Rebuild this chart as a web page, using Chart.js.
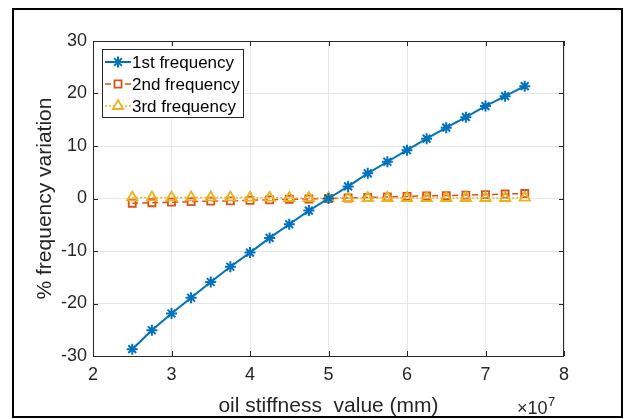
<!DOCTYPE html>
<html>
<head>
<meta charset="utf-8">
<script src="https://cdn.jsdelivr.net/npm/chart.js@4/dist/chart.umd.min.js"></script>
<style>
  body { margin: 0; background: #fff; }
  canvas { display: block; }
</style>
</head>
<body>
<canvas id="canvas" width="624" height="419"></canvas>
<script>
// oil stiffness values (x), three frequency variations in %
var stiffness = [2.5e7, 2.75e7, 3e7, 3.25e7, 3.5e7, 3.75e7, 4e7, 4.25e7, 4.5e7, 4.75e7, 5e7,
                 5.25e7, 5.5e7, 5.75e7, 6e7, 6.25e7, 6.5e7, 6.75e7, 7e7, 7.25e7, 7.5e7];
var freq1 = [-28.7, -25.1, -21.9, -18.9, -15.9, -13.0, -10.3, -7.5, -4.9, -2.3, 0,
             2.3, 4.8, 7.0, 9.2, 11.4, 13.5, 15.5, 17.6, 19.5, 21.4];
var freq2 = [-0.9, -0.8, -0.7, -0.6, -0.5, -0.45, -0.35, -0.25, -0.15, -0.1, 0,
             0.1, 0.2, 0.3, 0.4, 0.5, 0.55, 0.65, 0.75, 0.85, 0.95];
var freq3 = [0.2, 0.2, 0.2, 0.2, 0.2, 0.2, 0.15, 0.15, 0.1, 0.1, 0.05,
             0.1, 0.1, 0.1, 0.1, 0.1, 0.1, 0.1, 0.1, 0.1, 0.15];
var seriesNames = ['1st frequency', '2nd frequency', '3rd frequency'];
var xTicks = [2, 3, 4, 5, 6, 7, 8];   // x 10^7
var yTicks = [-30, -20, -10, 0, 10, 20, 30];

var FONT = '"Liberation Sans", Arial, sans-serif';
var BLUE = '#0072BD', ORANGE = '#D95319', YELLOW = '#EDB120';

function pts(ys) {
  return stiffness.map(function(x, i){ return {x: x, y: ys[i]}; });
}

var datasets = [
  {label: seriesNames[0], data: pts(freq1), borderColor: BLUE, backgroundColor: BLUE,
   borderWidth: 2, pointStyle: 'star', pointRadius: 5.5, pointBorderWidth: 2,
   pointBorderColor: BLUE, order: 0},
  {label: seriesNames[1], data: pts(freq2), borderColor: ORANGE, backgroundColor: 'rgba(0,0,0,0)',
   borderWidth: 1.5, borderDash: [6, 4], pointStyle: 'rect', pointRadius: 5, pointBorderWidth: 1.8,
   pointBorderColor: ORANGE, pointBackgroundColor: 'rgba(0,0,0,0)', order: 2},
  {label: seriesNames[2], data: pts(freq3), borderColor: YELLOW, backgroundColor: 'rgba(0,0,0,0)',
   borderWidth: 1.5, borderDash: [2, 2], pointStyle: 'triangle', pointRadius: 6, pointBorderWidth: 1.8,
   pointBorderColor: YELLOW, pointBackgroundColor: 'rgba(0,0,0,0)', order: 1}
];

// background, axes box with inward ticks, outer frame, x10^7 and legend
var decor = {
  id: 'decor',
  beforeDraw: function(chart){
    var ctx = chart.ctx;
    ctx.save();
    ctx.fillStyle = '#fff';
    ctx.fillRect(0, 0, chart.width, chart.height);
    ctx.restore();
  },
  afterDraw: function(chart){
    var ctx = chart.ctx, a = chart.chartArea;
    var xs = chart.scales.x, ys = chart.scales.y;
    ctx.save();
    ctx.strokeStyle = '#262626';
    ctx.lineWidth = 1;
    ctx.setLineDash([]);
    ctx.strokeRect(a.left + 0.5, a.top + 0.5, a.right - a.left - 1, a.bottom - a.top);
    ctx.beginPath();
    xTicks.forEach(function(t){
      var px = Math.round(xs.getPixelForValue(t * 1e7)) + 0.5;
      ctx.moveTo(px, a.bottom); ctx.lineTo(px, a.bottom - 5);
      ctx.moveTo(px, a.top); ctx.lineTo(px, a.top + 5);
    });
    yTicks.forEach(function(t){
      var py = Math.round(ys.getPixelForValue(t)) + 0.5;
      ctx.moveTo(a.left, py); ctx.lineTo(a.left + 5, py);
      ctx.moveTo(a.right, py); ctx.lineTo(a.right - 5, py);
    });
    ctx.stroke();

    // outer frame
    ctx.strokeStyle = '#000';
    ctx.lineWidth = 2;
    ctx.strokeRect(13, 9, 609, 408);

    // exponent label
    ctx.fillStyle = '#262626';
    ctx.textBaseline = 'alphabetic';
    ctx.textAlign = 'left';
    ctx.font = '18px ' + FONT;
    ctx.fillText('\u00d710', 517, 414);
    ctx.font = '13px ' + FONT;
    ctx.fillText('7', 548, 406);

    // legend
    var lx = 102, ly = 49, lw = 141, lh = 68;
    ctx.fillStyle = '#fff';
    ctx.fillRect(lx, ly, lw, lh);
    ctx.strokeStyle = '#262626';
    ctx.lineWidth = 1;
    ctx.strokeRect(lx + 0.5, ly + 0.5, lw, lh);
    ctx.font = '17px ' + FONT;
    ctx.textBaseline = 'middle';
    datasets.forEach(function(d, i){
      var cy = ly + 13 + i * 22;
      ctx.save();
      ctx.strokeStyle = d.borderColor;
      ctx.lineWidth = d.borderWidth;
      ctx.setLineDash(d.borderDash || []);
      ctx.beginPath();
      ctx.moveTo(lx + 3, cy); ctx.lineTo(lx + 29, cy);
      ctx.stroke();
      ctx.setLineDash([]);
      ctx.lineWidth = d.pointBorderWidth;
      ctx.strokeStyle = d.pointBorderColor;
      ctx.fillStyle = i === 0 ? BLUE : '#fff';
      Chart.helpers.drawPoint(ctx, {pointStyle: d.pointStyle, radius: d.pointRadius, borderWidth: d.pointBorderWidth}, lx + 16, cy);
      ctx.restore();
      ctx.fillStyle = '#000';
      ctx.fillText(d.label, lx + 30, cy + 1);
    });
    ctx.restore();
  }
};

var c = document.getElementById('canvas');
var chart = new Chart(c, {
  type: 'line',
  data: {datasets: datasets},
  options: {
    responsive: false,
    animation: false,
    layout: {padding: {left: 33, top: 41, right: 60, bottom: 0}},
    plugins: {legend: {display: false}, tooltip: {enabled: false}},
    elements: {line: {tension: 0}},
    scales: {
      x: {
        type: 'linear', min: 2e7, max: 8e7,
        ticks: {stepSize: 1e7, callback: function(v){ return v / 1e7; },
                font: {family: FONT, size: 18}, color: '#262626', padding: 8, maxRotation: 0},
        grid: {color: '#e6e6e6', drawTicks: false},
        border: {display: false},
        title: {display: true, text: 'oil stiffness  value (mm)', color: '#262626',
                font: {family: FONT, size: 21}, padding: 0},
        afterFit: function(s){ s.height = 63; }
      },
      y: {
        type: 'linear', min: -30, max: 30,
        ticks: {stepSize: 10, font: {family: FONT, size: 18}, color: '#262626', padding: 6},
        grid: {color: '#e6e6e6', drawTicks: false},
        border: {display: false},
        title: {display: true, text: '% frequency variation', color: '#262626',
                font: {family: FONT, size: 21}, padding: 0},
        afterFit: function(s){ s.width = 60; }
      }
    }
  },
  plugins: [decor]
});
</script>
</body>
</html>
